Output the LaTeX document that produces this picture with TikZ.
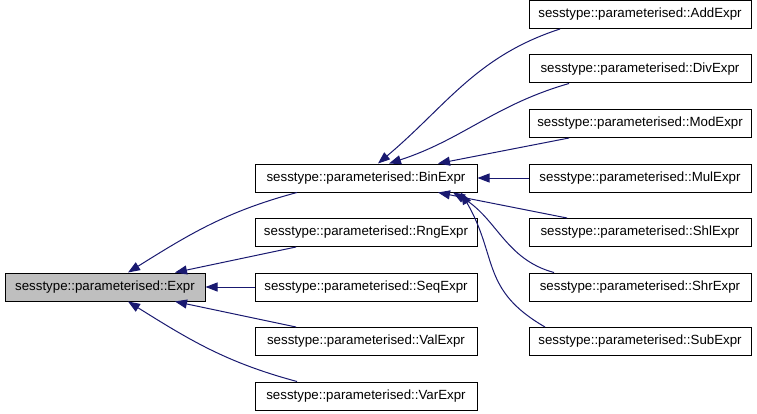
\documentclass[tikz,border=0pt]{standalone}
\usepackage{fontspec}
\setmainfont{Liberation Sans}
\usetikzlibrary{arrows.meta,positioning}
\definecolor{edgeblue}{HTML}{191970}
\definecolor{basegray}{HTML}{BFBFBF}

\begin{document}
\begin{tikzpicture}[
  x=1pt, y=1pt,
  node distance=25.5pt and 49pt,
  cls/.style={
    rectangle, draw=black, line width=1pt, fill=white,
    minimum width=222pt, minimum height=28pt, inner sep=0pt,
    font=\fontsize{13.3}{16}\selectfont
  },
  base/.style={cls, fill=basegray, minimum width=200pt},
  inh/.style={-{Triangle[length=12pt,width=9pt]}, line width=1pt, color=edgeblue},
]
  \useasboundingbox (0,0) rectangle (757,413);
  \node[base] (expr) at (105,126) {sesstype::parameterised::Expr};
  \node[cls, right=of expr] (seq) {sesstype::parameterised::SeqExpr};
  \node[cls, above=of seq] (rng) {sesstype::parameterised::RngExpr};
  \node[cls, above=of rng] (bin) {sesstype::parameterised::BinExpr};
  \node[cls, below=of seq] (val) {sesstype::parameterised::ValExpr};
  \node[cls, below=of val] (var) {sesstype::parameterised::VarExpr};

  \node[cls, right=51pt of bin] (mul) {sesstype::parameterised::MulExpr};
  \node[cls, above=of mul] (mod) {sesstype::parameterised::ModExpr};
  \node[cls, above=of mod] (div) {sesstype::parameterised::DivExpr};
  \node[cls, above=of div] (add) {sesstype::parameterised::AddExpr};
  \node[cls, below=of mul] (shl) {sesstype::parameterised::ShlExpr};
  \node[cls, below=of shl] (shr) {sesstype::parameterised::ShrExpr};
  \node[cls, below=of shr] (sub) {sesstype::parameterised::SubExpr};

  % subclasses of Expr
  \draw[inh] ([xshift=-69pt]bin.south) to[out=195,in=32] ([xshift=23pt]expr.north);
  \draw[inh] ([xshift=-70pt]rng.south) -- ([xshift=70pt]expr.north);
  \draw[inh] (seq) -- (expr);
  \draw[inh] ([xshift=-70pt]val.north) -- ([xshift=70pt]expr.south);
  \draw[inh] ([xshift=-69pt]var.north) to[out=165,in=-32] ([xshift=23pt]expr.south);

  % subclasses of BinExpr
  \draw[inh] ([xshift=-80pt]add.south) to[out=198,in=40] ([xshift=12pt]bin.north);
  \draw[inh] ([xshift=-71pt]div.south) to[out=196,in=18] ([xshift=23pt]bin.north);
  \draw[inh] ([xshift=-71pt]mod.south) -- ([xshift=72pt]bin.north);
  \draw[inh] (mul) -- (bin);
  \draw[inh] ([xshift=-73pt]shl.north) -- ([xshift=72pt]bin.south);
  \draw[inh] ([xshift=-86pt]shr.north) to[out=165,in=-30] ([xshift=87pt]bin.south);
  \draw[inh] ([xshift=-95pt]sub.north) to[out=150,in=-60,looseness=1.2] ([xshift=95pt]bin.south);
\end{tikzpicture}
\end{document}
